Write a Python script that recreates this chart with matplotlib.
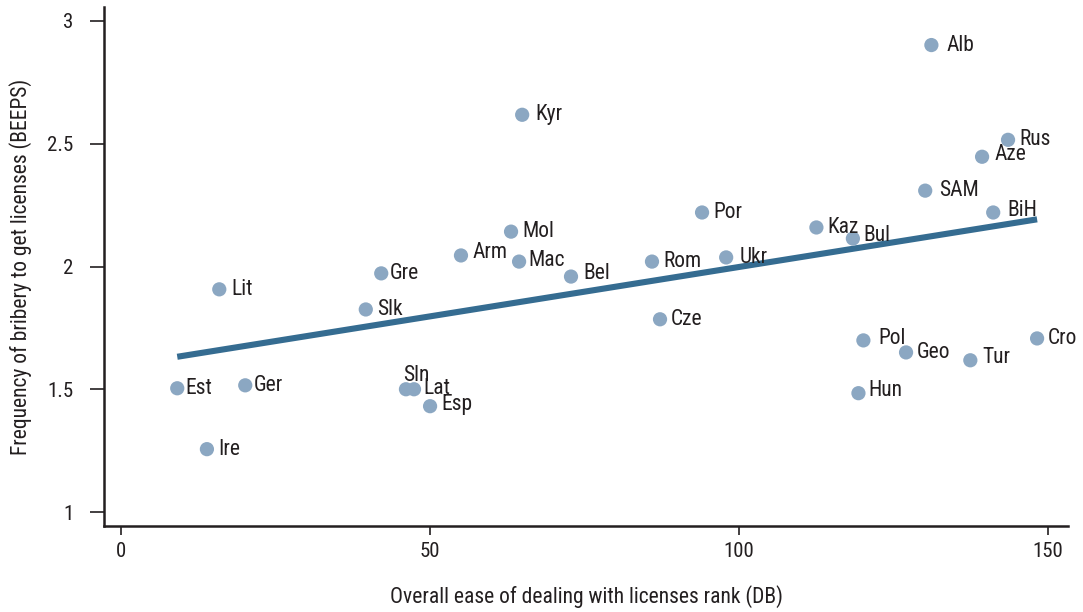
import matplotlib
matplotlib.use("Agg")
import matplotlib.pyplot as plt
from matplotlib import font_manager
import numpy as np

countries = ["Alb", "Kyr", "Rus", "Aze", "SAM", "BiH", "Por", "Kaz", "Bul", "Mol",
             "Arm", "Mac", "Rom", "Ukr", "Bel", "Gre", "Lit", "Slk", "Cze", "Pol",
             "Cro", "Geo", "Tur", "Est", "Ger", "Sln", "Lat", "Esp", "Hun", "Ire"]
license_rank = [131.1, 64.9, 143.5, 139.3, 130.1, 141.1, 94.0, 112.5, 118.4, 63.1,
                55.0, 64.4, 85.9, 97.9, 72.8, 42.1, 15.9, 39.6, 87.2, 120.1,
                148.2, 127.0, 137.4, 9.1, 20.1, 46.1, 47.4, 50.0, 119.3, 13.9]
bribery = [2.902, 2.618, 2.516, 2.447, 2.309, 2.220, 2.220, 2.159, 2.114, 2.142,
           2.045, 2.020, 2.020, 2.037, 1.959, 1.972, 1.907, 1.825, 1.785, 1.699,
           1.707, 1.650, 1.618, 1.504, 1.516, 1.500, 1.500, 1.431, 1.484, 1.256]

x_ticks = [0, 50, 100, 150]
y_ticks = [1, 1.5, 2, 2.5, 3]
y_tick_labels = ["1", "1.5", "2", "2.5", "3"]

# pick a condensed face if one is installed
entries = font_manager.fontManager.ttflist
names = {f.name for f in entries}
stretch = "normal"
family = "DejaVu Sans"
for cand in ["Liberation Sans Narrow", "Roboto Condensed", "Open Sans Condensed"]:
    if cand in names:
        family = cand
        break
else:
    cond = [f for f in entries if f.name == "DejaVu Sans" and str(f.stretch) in ("condensed", "semi-condensed", "75", "87")]
    if cond:
        stretch = "condensed"
    else:
        for f in entries:
            if "Condensed" in f.name or "Narrow" in f.name:
                family = f.name
                break
plt.rcParams["font.family"] = [family, "DejaVu Sans"]
plt.rcParams["font.stretch"] = stretch

TXT = "#231f20"
fig = plt.figure(figsize=(10.83, 6.12), dpi=100)
ax = fig.add_axes([104 / 1083, 1 - 526 / 612, (1068 - 104) / 1083, (526 - 7) / 612])

x = np.array(license_rank)
y = np.array(bribery)
slope, intercept = np.polyfit(x, y, 1)
xs = np.array([x.min(), x.max()])
ax.plot(xs, intercept + slope * xs, color="#356c91", lw=4.4, solid_capstyle="butt", zorder=2)

ax.scatter(x, y, s=105, color="#8ba7c2", edgecolors="none", zorder=3)

default_off = (11, 0)
offsets = {"Alb": (15, 0), "Kyr": (13, 0), "SAM": (14, 0), "BiH": (14, 2), "Bul": (10, 3),
           "Arm": (12, 3), "Mac": (9, 1), "Bel": (12, 3), "Gre": (9, 0), "Pol": (15, 2),
           "Est": (8, 0), "Ger": (9, 0), "Sln": (-3, 14), "Lat": (9, 1), "Esp": (11, 2),
           "Aze": (12, 2), "Ukr": (13, 0), "Lit": (12, 0), "Hun": (10, 3), "Tur": (12, 3)}
for name, xi, yi in zip(countries, license_rank, bribery):
    dx, dy = offsets.get(name, default_off)
    ax.annotate(name, (xi, yi), xytext=(dx, dy), textcoords="offset pixels",
                ha="left", va="center", fontsize=15.5, color=TXT, zorder=4)

ax.set_xlim(-2.75, 153.2)
ax.set_ylim(0.943, 3.057)
ax.set_xticks(x_ticks)
ax.set_yticks(y_ticks)
ax.set_yticklabels(y_tick_labels)
for s in ["top", "right"]:
    ax.spines[s].set_visible(False)
for s in ["left", "bottom"]:
    ax.spines[s].set_color(TXT)
    ax.spines[s].set_linewidth(1.8)
ax.tick_params(axis="x", direction="out", length=6.5, width=1.2, color=TXT,
               labelsize=15, labelcolor=TXT, pad=5)
ax.tick_params(axis="y", direction="out", length=10, width=1.2, color=TXT,
               labelsize=15, labelcolor=TXT, pad=12)

ax.set_xlabel("Overall ease of dealing with licenses rank (DB)", fontsize=15.5,
              color=TXT, labelpad=17)
ax.set_ylabel("Frequency of bribery to get licenses (BEEPS)", fontsize=15.5,
              color=TXT, labelpad=11)

fig.savefig("out.png", dpi=100)
